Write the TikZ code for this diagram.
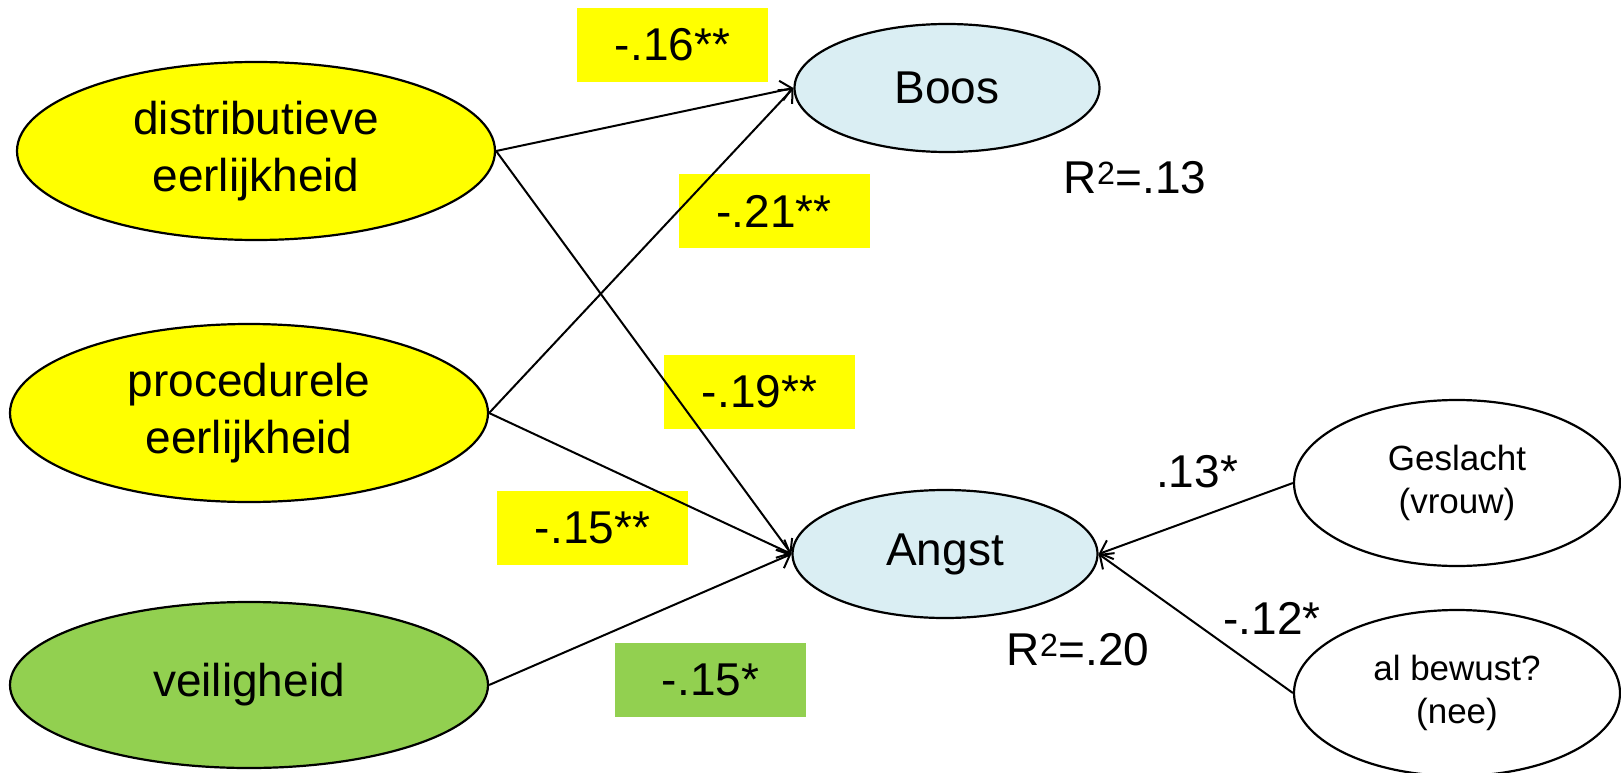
\documentclass[tikz,border=0pt]{standalone}
\usepackage{fontspec}
\setmainfont{Liberation Sans}
\usetikzlibrary{shapes.geometric,arrows.meta}
\definecolor{lyel}{HTML}{FFFF00}
\definecolor{lgreen}{HTML}{92D050}
\definecolor{lblue}{HTML}{DAEEF3}
\begin{document}
\begin{tikzpicture}[x=1pt,y=-1pt,
  bigfont/.style={font=\fontsize{46}{57}\selectfont},
  smallfont/.style={font=\fontsize{35}{43}\selectfont},
  lat/.style={ellipse, draw=black, line width=2.2pt, inner sep=0pt, align=center,
    minimum width=478pt, minimum height=178pt, bigfont},
  dep/.style={ellipse, draw=black, line width=2.2pt, inner sep=0pt, align=center,
    fill=lblue, minimum width=305pt, minimum height=128pt, bigfont},
  ctrl/.style={ellipse, draw=black, line width=2.2pt, inner sep=0pt, align=center,
    fill=white, minimum width=326pt, minimum height=166pt, smallfont},
  coef/.style={rectangle, inner sep=0pt, minimum width=191pt, minimum height=74pt, bigfont},
  plain/.style={inner sep=0pt, bigfont},
  arr/.style={line width=2pt, -{Straight Barb[length=11pt,width=20pt,line width=2pt]}}
]
\useasboundingbox (0,0) rectangle (1621,773);
% coefficient boxes (drawn below the connectors)
\node[coef, fill=lyel] (c16) at (672.5,45) {-.16**};
\node[coef, fill=lyel] (c21) at (774,211) {-.21**};
\node[coef, fill=lyel] (c19) at (759.5,392) {-.19**};
\node[coef, fill=lyel] (c15a) at (592.5,528) {-.15**};
\node[coef, fill=lgreen] (c15b) at (710.5,680) {-.15*};
% variables
\node[lat, fill=lyel] (dist) at (256,151) {distributieve\\eerlijkheid};
\node[lat, fill=lyel] (proc) at (249,413) {procedurele\\eerlijkheid};
\node[lat, fill=lgreen, minimum height=166pt] (veil) at (249,685) {veiligheid};
\node[dep] (boos) at (947,88) {Boos};
\node[dep] (angst) at (945,554) {Angst};
\node[ctrl] (gesl) at (1457,483) {Geslacht\\(vrouw)};
\node[ctrl] (bew) at (1457,693) {al bewust?\\(nee)};
% connectors
\draw[arr] (dist.east) -- (boos.west);
\draw[arr] (dist.east) -- (angst.west);
\draw[arr] (proc.east) -- (boos.west);
\draw[arr] (proc.east) -- (angst.west);
\draw[arr] (veil.east) -- (angst.west);
\draw[arr] (gesl.west) -- (angst.east);
\draw[arr] (bew.west) -- (angst.east);
% other labels
\node[plain] (r13) at (1135,178) {R\textsuperscript{2}=.13};
\node[plain] (r20) at (1078,650) {R\textsuperscript{2}=.20};
\node[plain] (l13) at (1197,472) {.13*};
\node[plain] (l12) at (1272,618) {-.12*};
\end{tikzpicture}
\end{document}
